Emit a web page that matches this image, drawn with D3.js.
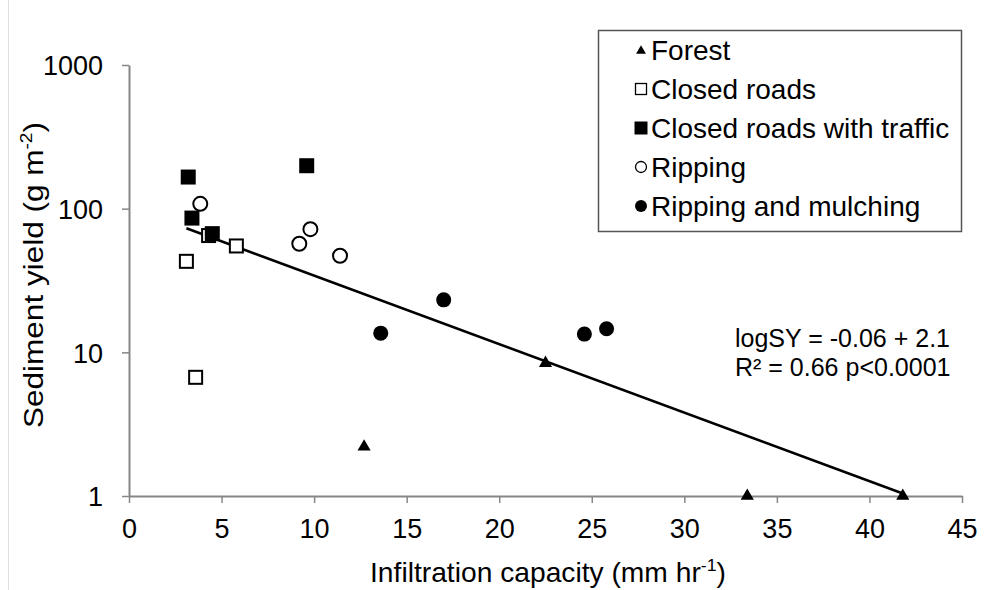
<!DOCTYPE html>
<html>
<head>
<meta charset="utf-8">
<script src="https://cdn.jsdelivr.net/npm/d3@7"></script>
<style>
  html, body { margin: 0; padding: 0; background: #fff; }
  svg { display: block; font-family: "Liberation Sans", Arial, sans-serif; }
</style>
</head>
<body>
<svg id="chart" width="994" height="590"></svg>
<script>
// ---- data ----
const forestX = [12.7, 22.5, 33.4, 41.8];
const forestY = [2.2, 8.4, 1.0, 1.0];
const closedX = [3.1, 3.6, 4.3, 5.8];
const closedY = [43, 6.7, 65, 55];
const trafficX = [3.2, 3.4, 4.5, 9.6];
const trafficY = [166, 86, 67, 199];
const rippingX = [3.85, 9.2, 9.8, 11.4];
const rippingY = [108, 57, 72, 47];
const mulchX = [13.6, 17.0, 24.6, 25.8];
const mulchY = [13.6, 23.2, 13.4, 14.6];
const trendX = [3.1, 41.8];
const trendY = [73, 1.04];
const xTicks = [0, 5, 10, 15, 20, 25, 30, 35, 40, 45];
const yTicks = [1, 10, 100, 1000];
const legendLabels = ["Forest", "Closed roads", "Closed roads with traffic", "Ripping", "Ripping and mulching"];
const eqLines = ["logSY = -0.06 + 2.1", "R\u00B2 = 0.66 p<0.0001"];

const svg = d3.select("#chart");
const x = d3.scaleLinear().domain([0, 45]).range([129, 962]);
const y = d3.scaleLog().domain([1, 1000]).range([496, 65]);
const axisColor = "#868686";

// faint left border
svg.append("line").attr("x1", 8.5).attr("x2", 8.5).attr("y1", 0).attr("y2", 590)
  .attr("stroke", "#e0e0e0").attr("stroke-width", 1);

// x axis
const gx = svg.append("g").attr("transform", `translate(0,${y(1)})`)
  .call(d3.axisBottom(x).tickValues(xTicks).tickSize(7).tickSizeOuter(0).tickFormat(d3.format("d")));
gx.select(".domain").attr("stroke", axisColor).attr("stroke-width", 2);
gx.selectAll(".tick line").attr("stroke", axisColor).attr("stroke-width", 1.5);
gx.selectAll(".tick text").attr("y", 42).attr("dy", 0).attr("fill", "#000")
  .attr("font-size", 27).attr("font-family", "Liberation Sans, Arial, sans-serif");

// y axis
const gy = svg.append("g").attr("transform", `translate(${x(0)},0)`)
  .call(d3.axisLeft(y).tickValues(yTicks).tickSize(7).tickSizeOuter(0).tickPadding(19).tickFormat(d3.format("d")));
gy.select(".domain").attr("stroke", axisColor).attr("stroke-width", 2);
gy.selectAll(".tick line").attr("stroke", axisColor).attr("stroke-width", 1.5);
gy.selectAll(".tick text").attr("fill", "#000").attr("dy", "0.36em")
  .attr("font-size", 27).attr("font-family", "Liberation Sans, Arial, sans-serif");

// axis titles
function fitWidth(sel, target) {
  const w = sel.node().getComputedTextLength();
  return target / w;
}
const xt = svg.append("text").attr("text-anchor", "middle").attr("font-size", 27).attr("fill", "#000");
xt.append("tspan").text("Infiltration  capacity  (mm  hr");
xt.append("tspan").attr("font-size", 17).attr("dy", -11).text("-1");
xt.append("tspan").attr("dy", 11).text(")");
{
  const s = fitWidth(xt, 356);
  xt.attr("transform", `translate(548,582) scale(${s},1)`);
}
const yt = svg.append("text").attr("text-anchor", "middle").attr("font-size", 28).attr("fill", "#000");
yt.append("tspan").text("Sediment  yield  (g  m");
yt.append("tspan").attr("font-size", 17).attr("dy", -11).text("-2");
yt.append("tspan").attr("dy", 11).text(")");
{
  const s = fitWidth(yt, 306);
  yt.attr("transform", `translate(43,275) rotate(-90) scale(${s},1)`);
}

// trend line
const trend = trendX.map((d, i) => [d, trendY[i]]);
svg.append("path").datum(trend)
  .attr("d", d3.line().x(d => x(d[0])).y(d => y(d[1])))
  .attr("fill", "none").attr("stroke", "#000").attr("stroke-width", 2.6);

const zip = (a, b) => a.map((d, i) => [d, b[i]]);

// markers
function triangle(g, data, size) {
  g.selectAll(null).data(data).enter().append("path")
    .attr("d", d3.symbol(d3.symbolTriangle, size))
    .attr("transform", d => `translate(${x(d[0])},${y(d[1])})`)
    .attr("fill", "#000");
}
const gm = svg.append("g");
triangle(gm, zip(forestX, forestY), 75);
gm.selectAll(null).data(zip(closedX, closedY)).enter().append("rect")
  .attr("x", d => x(d[0]) - 6.5).attr("y", d => y(d[1]) - 6.5)
  .attr("width", 13).attr("height", 13)
  .attr("fill", "#fff").attr("stroke", "#000").attr("stroke-width", 2);
gm.selectAll(null).data(zip(trafficX, trafficY)).enter().append("rect")
  .attr("x", d => x(d[0]) - 7.5).attr("y", d => y(d[1]) - 7.5)
  .attr("width", 15).attr("height", 15).attr("fill", "#000");
gm.selectAll(null).data(zip(rippingX, rippingY)).enter().append("circle")
  .attr("cx", d => x(d[0])).attr("cy", d => y(d[1])).attr("r", 7)
  .attr("fill", "#fff").attr("stroke", "#000").attr("stroke-width", 2);
gm.selectAll(null).data(zip(mulchX, mulchY)).enter().append("circle")
  .attr("cx", d => x(d[0])).attr("cy", d => y(d[1])).attr("r", 7.5)
  .attr("fill", "#000");

// legend
const lg = svg.append("g");
lg.append("rect").attr("x", 598.5).attr("y", 30.5).attr("width", 363).attr("height", 201)
  .attr("fill", "#fff").attr("stroke", "#555").attr("stroke-width", 1.5);
const rowY = i => 50 + i * 39;
const mx = 641;
legendLabels.forEach((lab, i) => {
  const cy = rowY(i);
  if (i === 0) {
    lg.append("path").attr("d", d3.symbol(d3.symbolTriangle, 42)).attr("transform", `translate(${mx},${cy + 1})`).attr("fill", "#000");
  } else if (i === 1) {
    lg.append("rect").attr("x", mx - 5.5).attr("y", cy - 5.5).attr("width", 11).attr("height", 11)
      .attr("fill", "#fff").attr("stroke", "#000").attr("stroke-width", 1.3);
  } else if (i === 2) {
    lg.append("rect").attr("x", mx - 6.5).attr("y", cy - 6.5).attr("width", 13).attr("height", 13).attr("fill", "#000");
  } else if (i === 3) {
    lg.append("circle").attr("cx", mx).attr("cy", cy).attr("r", 5.5)
      .attr("fill", "#fff").attr("stroke", "#000").attr("stroke-width", 1.3);
  } else {
    lg.append("circle").attr("cx", mx).attr("cy", cy).attr("r", 6).attr("fill", "#000");
  }
  lg.append("text").attr("x", 651).attr("y", cy + 10).attr("font-size", 28).attr("fill", "#000").text(lab);
});

// equation
svg.selectAll(null).data(eqLines).enter().append("text")
  .attr("x", 735).attr("y", (d, i) => 347 + i * 29)
  .attr("font-size", 25).attr("fill", "#000").text(d => d);
</script>
</body>
</html>
